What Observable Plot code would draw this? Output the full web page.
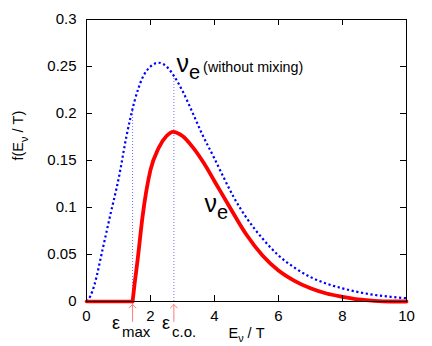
<!DOCTYPE html>
<html>
<head>
<meta charset="utf-8">
<script src="https://cdn.jsdelivr.net/npm/d3@7"></script>
<script src="https://cdn.jsdelivr.net/npm/@observablehq/plot@0.6"></script>
<style>
  html, body { margin: 0; padding: 0; background: #fff; }
  #chart svg { display: block; }
</style>
</head>
<body>
<div id="chart"></div>
<script>
// ---- data ----
const xTicks = [0, 2, 4, 6, 8, 10];
const yTicks = [0, 0.05, 0.1, 0.15, 0.2, 0.25, 0.3];

// nu_e without mixing (blue dotted)
const blueX = [0, 0.125, 0.25, 0.5, 0.75, 1.0, 1.25, 1.5, 1.75, 2.0, 2.25, 2.5, 2.75, 3.0, 3.3, 3.6, 4.0, 4.3, 4.6, 5.0, 5.5, 6.0, 6.5, 7.0, 7.5, 8.0, 8.5, 9.0, 9.5, 10.0];
const blueY = [0, 0.006, 0.018, 0.055, 0.093, 0.130, 0.176, 0.213, 0.238, 0.250, 0.254, 0.250, 0.239, 0.224, 0.202, 0.179, 0.152, 0.131, 0.111, 0.089, 0.067, 0.049, 0.036, 0.026, 0.019, 0.014, 0.010, 0.007, 0.005, 0.0035];

// nu_e with mixing (red thick)
const redFlatX = [0, 1.44];
const redFlatY = [0, 0];
const redX = [1.44, 1.5, 1.6, 1.75, 2.0, 2.25, 2.5, 2.7, 3.0, 3.3, 3.67, 4.0, 4.5, 5.0, 5.5, 6.0, 6.5, 7.0, 7.5, 8.0, 8.5, 9.0, 9.5, 10.0];
const redY = [0, 0.018, 0.045, 0.090, 0.140, 0.163, 0.176, 0.1805, 0.176, 0.165, 0.147, 0.128, 0.099, 0.071, 0.049, 0.033, 0.022, 0.014, 0.0085, 0.005, 0.0022, 0.0006, 0, 0];

// epsilon markers
const epsX = [1.44, 2.73];
const epsTop = [0.206, 0.240];
const epsNames = ["max", "c.o."];

// curve labels
const nuLabelX = [2.81, 3.69];
const nuLabelY = [0.2441, 0.0947];
const mixLabel = "(without mixing)";
const xLabel = "E_{ν} / T";
const yLabel = "f(E_{ν} / T)";

// ---- build ----
const W = 432, H = 346;
const mL = 86, mR = 26, mT = 19, mB = 45;
const plotW = W - mL - mR, plotH = H - mT - mB;
const tick = 6;

const blue = blueX.map((x, i) => ({x, y: blueY[i]}));
const redFlat = redFlatX.map((x, i) => ({x, y: redFlatY[i]}));
const red = redX.map((x, i) => ({x, y: redY[i]}));
const eps = epsX.map((x, i) => ({x, top: epsTop[i], name: epsNames[i]}));
const nus = nuLabelX.map((x, i) => ({x, y: nuLabelY[i]}));

const fmtY = d => String(+d.toFixed(2));

const chart = Plot.plot({
  width: W,
  height: H,
  marginLeft: mL, marginRight: mR, marginTop: mT, marginBottom: mB,
  style: {fontFamily: "'Liberation Sans', Arial, Helvetica, sans-serif", fontSize: "15px", background: "#fff", color: "#000"},
  x: {domain: [0, 10], ticks: xTicks},
  y: {domain: [0, 0.3], ticks: yTicks},
  marks: [
    // vertical dotted guides
    Plot.ruleX(eps, {x: "x", y1: () => 0, y2: "top", stroke: "#7070ff", strokeWidth: 1, strokeDasharray: "1,2", strokeLinecap: "butt"}),
    // blue dotted curve
    Plot.line(blue, {x: "x", y: "y", stroke: "#0000ff", strokeWidth: 2.2, strokeDasharray: "2.2,2.6", strokeLinecap: "butt", curve: "monotone-x"}),
    // red curve
    Plot.line(redFlat, {x: "x", y: "y", stroke: "#ff0000", strokeWidth: 3.5}),
    Plot.line(red, {x: "x", y: "y", stroke: "#ff0000", strokeWidth: 3.8, curve: "monotone-x"}),
    // frame and inward ticks
    Plot.frame({stroke: "#000", strokeWidth: 1}),
    Plot.tickX(xTicks, {x: d => d, insetTop: plotH - tick, stroke: "#000"}),
    Plot.tickX(xTicks, {x: d => d, insetBottom: plotH - tick, stroke: "#000"}),
    Plot.tickY(yTicks, {y: d => d, insetRight: plotW - tick, stroke: "#000"}),
    Plot.tickY(yTicks, {y: d => d, insetLeft: plotW - tick, stroke: "#000"}),
    // tick labels
    Plot.axisX(xTicks, {tickSize: 0, tickPadding: 9, label: null, fontSize: 15}),
    Plot.axisY(yTicks, {tickSize: 0, tickPadding: 10, label: null, fontSize: 15, tickFormat: fmtY}),
    // arrows below axis
    Plot.vector(eps, {x: "x", frameAnchor: "bottom", anchor: "end", length: 17, rotate: 0, dy: 3, stroke: "#ff7a7a", strokeWidth: 1}),
    // epsilon labels
    Plot.text([eps[0]], {x: "x", text: () => "ε", frameAnchor: "bottom", lineAnchor: "bottom", textAnchor: "start", dx: -20.6, dy: 27.5, fontSize: 18}),
    Plot.text([eps[0]], {x: "x", text: "name", frameAnchor: "bottom", lineAnchor: "bottom", textAnchor: "start", dx: -10.6, dy: 35, fontSize: 15}),
    Plot.text([eps[1]], {x: "x", text: () => "ε", frameAnchor: "bottom", lineAnchor: "bottom", textAnchor: "start", dx: -11.9, dy: 27.5, fontSize: 18}),
    Plot.text([eps[1]], {x: "x", text: "name", frameAnchor: "bottom", lineAnchor: "bottom", textAnchor: "start", dx: -1.9, dy: 35, fontSize: 15}),
    // nu labels
    Plot.text(nus, {x: "x", y: "y", text: () => "ν", lineAnchor: "bottom", textAnchor: "start", fontSize: 25}),
    Plot.text(nus, {x: "x", y: "y", text: () => "e", lineAnchor: "bottom", textAnchor: "start", dx: 12.5, dy: 6.6, fontSize: 20}),
    Plot.text([nus[0]], {x: "x", y: "y", text: () => mixLabel, lineAnchor: "bottom", textAnchor: "start", dx: 26.7, fontSize: 14.3}),
    // axis titles
    Plot.text([xLabel], {frameAnchor: "bottom", lineAnchor: "bottom", dy: 36, fontSize: 14.5}),
    Plot.text([yLabel], {frameAnchor: "left", rotate: -90, dx: -68, fontSize: 14.5})
  ]
});

document.getElementById("chart").appendChild(chart);

// subscripts: turn "_{...}" into lowered smaller tspans
function subify(root, base) {
  root.querySelectorAll("text").forEach(el => {
    const s = el.textContent;
    if (!s.includes("_{")) return;
    const parts = s.split(/_\{([^}]*)\}/);
    el.textContent = "";
    const subSize = base * 0.75, shift = base * 0.3;
    let lowered = false;
    parts.forEach((p, i) => {
      if (p === "") return;
      const t = document.createElementNS("http://www.w3.org/2000/svg", "tspan");
      if (i % 2) {
        t.setAttribute("font-size", subSize);
        t.setAttribute("dy", shift);
        lowered = true;
      } else if (lowered) {
        t.setAttribute("dy", -shift);
        lowered = false;
      }
      t.textContent = p;
      el.appendChild(t);
    });
  });
}
subify(chart, 14.5);
</script>
</body>
</html>
